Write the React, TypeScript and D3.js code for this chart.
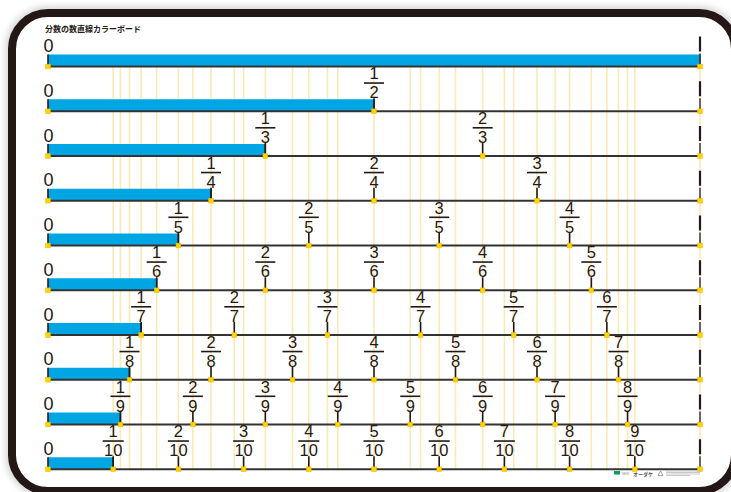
import React from 'react';
import * as d3 from 'd3';

// rows of the board: 1 whole, then halves ... tenths
const denominators = [1, 2, 3, 4, 5, 6, 7, 8, 9, 10];
const titleText = '分数の数直線カラーボード';
const brandText = 'オーダケ';
const zeroLabel = '0';

const W = 731;
const H = 492;

const x = d3.scaleLinear().domain([0, 1]).range([48, 700]);
const y = d3.scalePoint<number>().domain(denominators).range([66.5, 469.25]);

const INK = '#231815';
const BLUE = '#00a5e3';
const FONT = "'Liberation Sans', Arial, sans-serif";

// every distinct fraction value gets a faint guide line
const guideValues: number[] = [];
denominators.forEach(n => {
  for (let k = 1; k <= n; k++) {
    const v = k / n;
    if (!guideValues.some(g => Math.abs(g - v) < 1e-9)) guideValues.push(v);
  }
});

const Fraction: React.FC<{ k: number; n: number; b: number }> = ({ k, n, b }) => {
  const cx = x(k / n);
  const lineW = n >= 10 ? 21 : 20;
  return (
    <g>
      <text x={cx} y={b - 32} textAnchor="middle" fontSize={16.5} fontFamily={FONT} fill={INK}>{k}</text>
      <line x1={cx - lineW / 2} x2={cx + lineW / 2} y1={b - 28.2} y2={b - 28.2} stroke={INK} strokeWidth={1.6} />
      <text x={cx} y={b - 13} textAnchor="middle" fontSize={16.5} fontFamily={FONT} fill={INK}>{n}</text>
      <line x1={cx} x2={cx} y1={b - 13} y2={b} stroke={INK} strokeWidth={1.6} />
    </g>
  );
};

const App: React.FC = () => {
  const yTop = y(1)!;
  const yBottom = y(10)!;
  return (
    <svg width={W} height={H} style={{ position: 'fixed', left: 0, top: 0, background: '#fff' }}>
      <defs>
        <filter id="shadow" x="-5%" y="-5%" width="110%" height="110%">
          <feGaussianBlur stdDeviation="3" />
        </filter>
      </defs>
      {/* board frame */}
      <rect x={10} y={11} width={727} height={482} rx={38} fill="none" stroke="#d8d8d8" strokeWidth={10} filter="url(#shadow)" />
      <rect x={12} y={13} width={723} height={478} rx={36} fill="#fff" stroke={INK} strokeWidth={8} />

      <text x={45} y={32} fontSize={8} fontWeight={700} fontFamily="'Noto Sans CJK JP', sans-serif" fill={INK}>{titleText}</text>

      {/* faint guide lines */}
      {guideValues.map((v, i) => (
        <line key={i} x1={x(v)} x2={x(v)} y1={yTop} y2={yBottom} stroke="#fde9b4" strokeWidth={1.6} />
      ))}

      {denominators.map(n => {
        const b = y(n)!;
        const ks = d3.range(1, n);
        return (
          <g key={n}>
            <rect x={x(0)} y={b - 12} width={x(1 / n) - x(0)} height={12} fill={BLUE} />
            <line x1={x(0)} x2={x(0)} y1={b - 12} y2={b} stroke={INK} strokeWidth={1.6} />
            <line x1={x(1 / n)} x2={x(1 / n)} y1={b - 12} y2={b} stroke={INK} strokeWidth={1.4} />
            <line x1={x(0)} x2={x(1)} y1={b} y2={b} stroke="#333" strokeWidth={1.8} />
            <text x={x(0) + 0.5} y={b - 14.5} textAnchor="middle" fontSize={18} fontFamily={FONT} fill={INK}>{zeroLabel}</text>
            {ks.map(k => <Fraction key={k} k={k} n={n} b={b} />)}
            {/* the whole mark at 1 */}
            <line x1={x(1)} x2={x(1)} y1={b - 30} y2={b - 15} stroke={INK} strokeWidth={2.2} />
            <line x1={x(1)} x2={x(1)} y1={b - 13} y2={b} stroke="#444" strokeWidth={1.6} />
            {d3.range(0, n + 1).map(k => (
              <rect key={k} x={x(k / n) - 2.3} y={b - 2.3} width={4.6} height={4.6} fill="#ffd400" stroke="#f5b800" strokeWidth={0.6} />
            ))}
          </g>
        );
      })}

      {/* maker mark */}
      <rect x={614} y={471} width={6} height={3} fill="#1a9a4a" />
      <rect x={614} y={474} width={6} height={1} fill="#6cc" />
      <text x={622} y={475} fontSize={3} fontFamily={FONT} fill="#888">NEW</text>
      <text x={633} y={475.5} fontSize={5} fontWeight={700} fontFamily="'Noto Sans CJK JP', sans-serif" fill="#555">{brandText}</text>
      <path d="M658,475.5 L660.5,471 L663,475.5 Z" fill="none" stroke="#666" strokeWidth={0.6} />
      {d3.range(0, 4).map(i => (
        <line key={i} x1={666} x2={i === 3 ? 690 : 700} y1={471 + i * 1.5} y2={471 + i * 1.5} stroke="#bbb" strokeWidth={0.8} />
      ))}
    </svg>
  );
};

export default App;
